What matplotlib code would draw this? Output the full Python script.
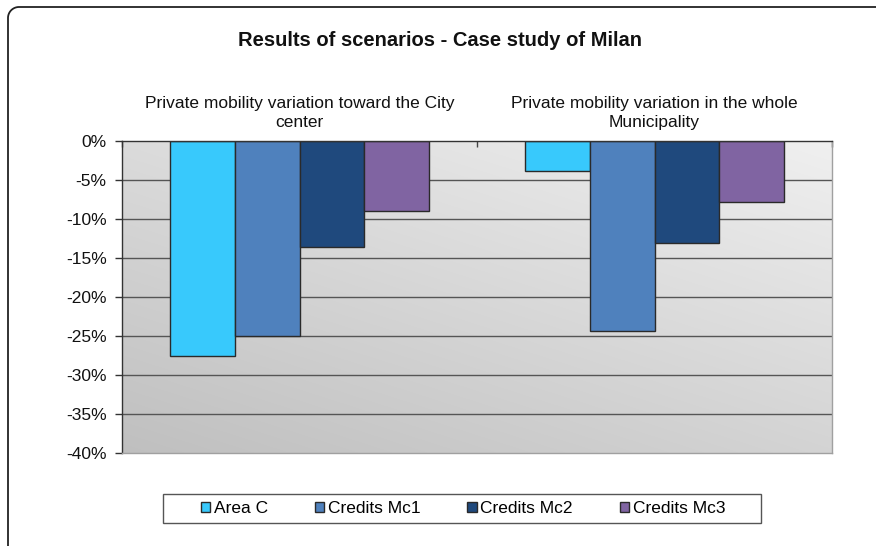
import numpy as np
import matplotlib
matplotlib.use("Agg")
import matplotlib.pyplot as plt
from matplotlib.lines import Line2D
from matplotlib.patches import Rectangle
from matplotlib.ticker import FuncFormatter, FixedLocator

plt.rcParams['font.family'] = ['Liberation Sans', 'DejaVu Sans']

# Data
title = "Results of scenarios - Case study of Milan"
categories = ["Private mobility variation toward the City\ncenter",
              "Private mobility variation in the whole\nMunicipality"]
series_names = ["Area C", "Credits Mc1", "Credits Mc2", "Credits Mc3"]
area_c = [-27.5, -3.9]
credits_mc1 = [-25.0, -24.4]
credits_mc2 = [-13.6, -13.1]
credits_mc3 = [-9.0, -7.8]
y_ticks = [0, -5, -10, -15, -20, -25, -30, -35, -40]

series_values = [area_c, credits_mc1, credits_mc2, credits_mc3]
colors = ["#38c9fc", "#4f81bd", "#1f497d", "#8064a2"]

W, H = 876, 546
fig = plt.figure(figsize=(W / 100, H / 100), dpi=100)

# Outer chart border: left edge, rounded top-left corner, top edge (pixel units)
r, x0, y0 = 11, 8, 7
theta = np.linspace(np.pi, np.pi / 2, 20)
arc_x = (x0 + r) + r * np.cos(theta)
arc_y = (y0 + r) - r * np.sin(theta)
px = np.concatenate([[x0], arc_x, [W + 5]])
py = np.concatenate([[H + 5], arc_y, [y0]])
fig.lines.append(Line2D(px / W, 1 - py / H, transform=fig.transFigure,
                        color="#222222", linewidth=1.3))

left, right, top, bottom = 122, 832, 141, 453
ax = fig.add_axes([left / W, 1 - bottom / H, (right - left) / W, (bottom - top) / H])

# Gradient plot-area background
nx, ny = 200, 200
gx = np.linspace(0, 1, nx)
gy = np.linspace(0, 1, ny)
GX, GY = np.meshgrid(gx, gy)
shade = 0.75 + 0.08 * GX + 0.11 * GY
rgb = np.dstack([shade, shade, shade])
ax.imshow(rgb, extent=[0, len(categories), -40, 0], origin="lower",
          aspect="auto", zorder=0, interpolation="bilinear")

ax.set_xlim(0, len(categories))
ax.set_ylim(-40, 0)

# Horizontal gridlines
for v in y_ticks[1:-1]:
    ax.axhline(v, color="#555555", linewidth=1.0, zorder=1)

# Bars
bar_w = 0.183
centers = np.arange(len(categories)) + 0.5
for j, (name, vals, c) in enumerate(zip(series_names, series_values, colors)):
    ax.bar(centers + (j - 1.5) * bar_w, vals, width=bar_w, color=c,
           edgecolor="#2a2a2a", linewidth=1.0, label=name, zorder=3)

# Axes styling
ax.yaxis.set_major_locator(FixedLocator(y_ticks))
ax.yaxis.set_major_formatter(FuncFormatter(lambda v, p: f"{int(round(v))}%"))
ax.tick_params(axis="y", direction="out", length=5, width=1, color="#333333",
               labelsize=12.5, pad=6, labelcolor="#111111")
ax.xaxis.tick_top()
ax.set_xticks(np.arange(len(categories) + 1))
ax.set_xticklabels([])
ax.tick_params(axis="x", direction="in", length=4, width=1, color="#444444")

ax.spines["left"].set_color("#333333")
ax.spines["top"].set_color("#333333")
ax.spines["right"].set_color("#a0a0a0")
ax.spines["bottom"].set_color("#a0a0a0")
for s in ax.spines.values():
    s.set_linewidth(1.0)
    s.set_zorder(4)

# Category labels above the plot
for cx, lab in zip(centers, categories):
    ax.text(cx, 1.036, lab, transform=ax.get_xaxis_transform(),
            ha="center", va="bottom", fontsize=12.5, color="#111111",
            linespacing=1.28)

# Title
fig.text(440 / W, 1 - 46 / H, title, ha="center", va="baseline",
         fontsize=14.5, fontweight="bold", color="#111111")

# Legend box and entries
fig.patches.append(Rectangle((163 / W, 1 - 523 / H), (761 - 163) / W, (523 - 494) / H,
                             transform=fig.transFigure, fill=True, facecolor="white",
                             edgecolor="#555555", linewidth=1.0, zorder=1))
leg = fig.legend(loc="center", bbox_to_anchor=(463 / W, 1 - 508.5 / H), ncol=4,
                 frameon=False, fontsize=12.5, handlelength=0.55, handleheight=0.55,
                 handletextpad=0.2, columnspacing=2.7)
leg.set_zorder(5)

fig.savefig("out.png", dpi=100)
